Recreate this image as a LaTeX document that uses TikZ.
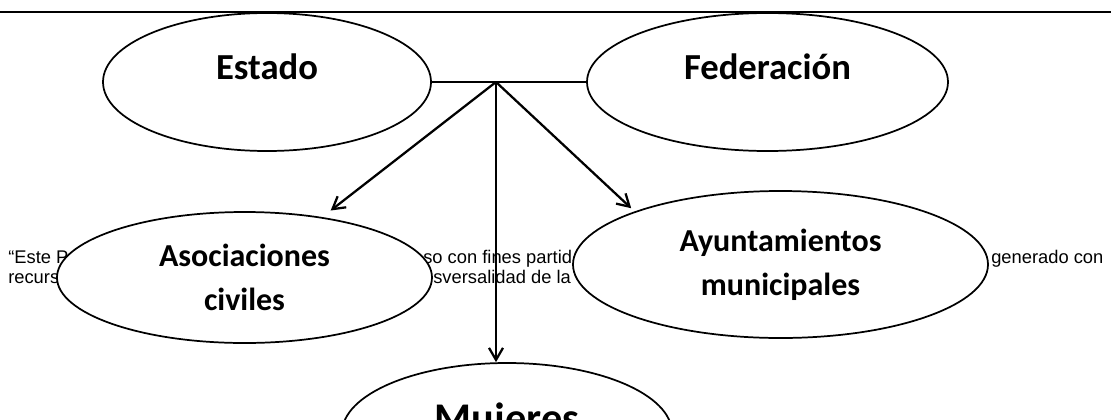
\documentclass[tikz,border=0pt]{standalone}
\usepackage{fontspec}
\setmainfont{Liberation Sans}
\newfontfamily\calibrifont{Carlito}
\usetikzlibrary{shapes.geometric,arrows.meta}

\tikzset{
  oval/.style 2 args={ellipse, draw, fill=white, line width=1.3pt, inner sep=0pt,
    minimum width=0.75pt*#1, minimum height=0.75pt*#2, align=center},
  bigtag/.style={font=\calibrifont\bfseries\fontsize{27.5}{33}\selectfont,
    text height=20pt, text depth=24.5pt},
  midtag/.style={font=\calibrifont\bfseries\fontsize{24}{33}\selectfont},
  note/.style={font=\fontsize{13.75}{16}\selectfont, inner sep=0pt, anchor=base west},
  flecha/.style={-{Straight Barb[length=9pt,width=10.5pt]}, line width=1.7pt}
}

\begin{document}
\begin{tikzpicture}[x=0.75pt, y=-0.75pt]
    \useasboundingbox (0,0) rectangle (1111,419);
    \clip (0,0) rectangle (1111,419);

    % 背景文字
    \node[note] (t1) at (8,263) {“Este P};
    \node[note] (t2) at (423,263) {so con fines partid};
    \node[note] (t3) at (991,263) {generado con};
    \node[note] (t4) at (8,283) {recurs};
    \node[note] (t5) at (433,283) {sversalidad de la};

    % 椭圆节点
    \node[oval={328}{138}, bigtag] (estado) at (267,82) {Estado};
    \node[oval={361}{138}, bigtag] (federacion) at (767.5,82) {Federación};
    \node[oval={375}{131}, midtag] (asoc) at (244.5,277.5) {Asociaciones\\civiles};
    \node[oval={415}{147}, midtag] (ayun) at (780.5,264.5) {Ayuntamientos\\municipales};
    \node[oval={330}{140}, font=\calibrifont\bfseries\fontsize{31.7}{36}\selectfont,
      text height=20pt, text depth=21.5pt] (mujeres) at (507,433) {Mujeres};
    \coordinate (hub) at (496,82);

    % 连线
    \draw[line width=1.3pt] (estado) -- (federacion);
    \draw[flecha, shorten >=8pt] (hub) -- (asoc);
    \draw[flecha, shorten >=3.5pt] (hub) -- (ayun.160.5);
    \draw[flecha] (hub) -- (hub |- mujeres.north);

    % 顶部横线
    \draw[line width=1.5pt] (0,12) -- (1111,12);
\end{tikzpicture}
\end{document}
